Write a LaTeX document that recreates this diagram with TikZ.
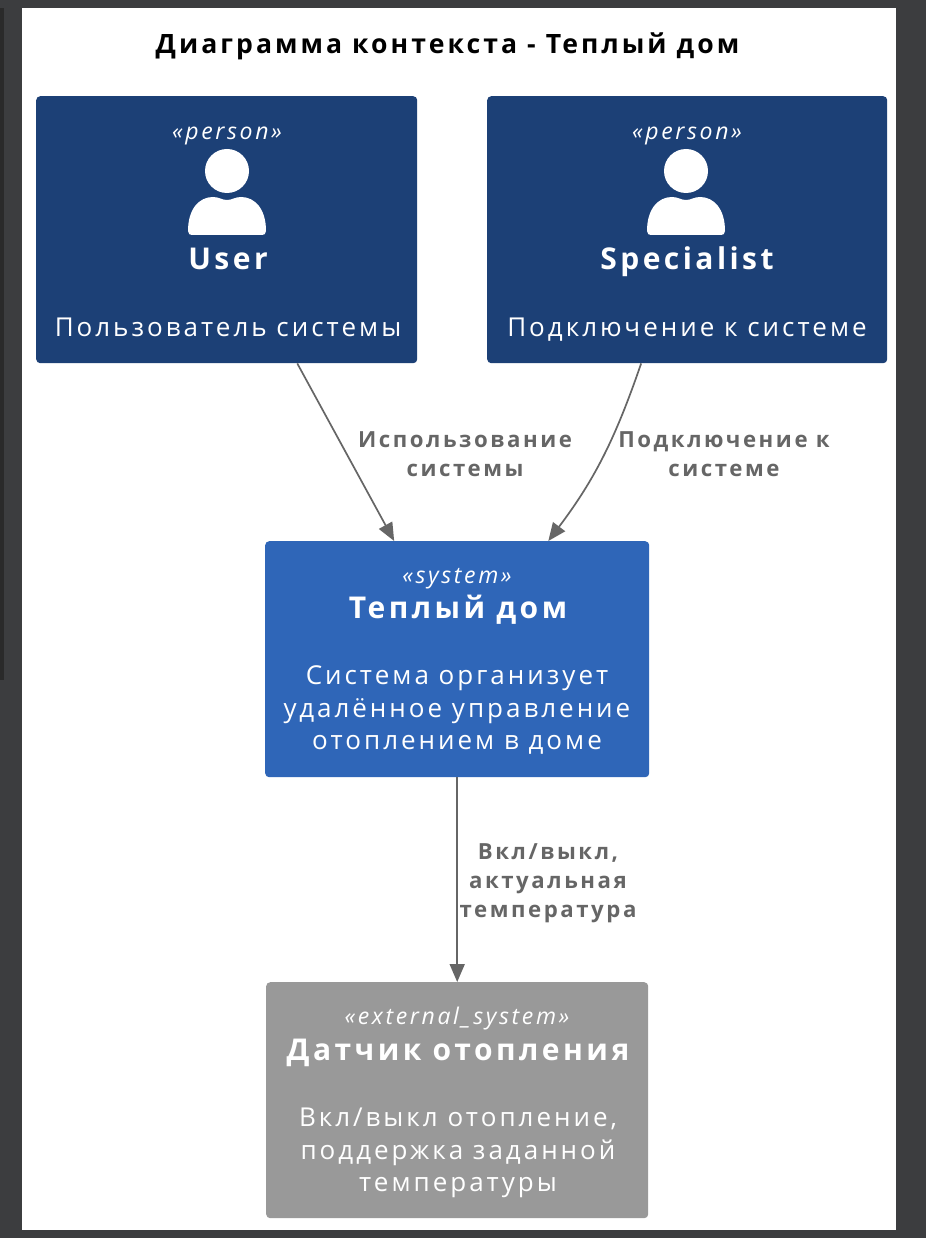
\documentclass[tikz,border=0pt]{standalone}
\usepackage{fontspec}
\setmainfont{Open Sans}
\newfontfamily\spaced[LetterSpace=11.5]{Open Sans}
\usetikzlibrary{arrows.meta,calc}
\definecolor{framegrey}{RGB}{60,61,63}
\definecolor{edgegrey}{RGB}{42,42,42}
\definecolor{persondark}{RGB}{28,64,118}
\definecolor{systemblue}{RGB}{47,102,184}
\definecolor{externalgrey}{RGB}{153,153,153}
\definecolor{relgrey}{RGB}{102,102,102}
\tikzset{
    c4box/.style={rounded corners=4pt,inner sep=0pt,anchor=north west},
    stereo/.style={text=white,anchor=base,inner sep=0pt,font=\spaced\itshape\fontsize{23}{26}\selectfont},
    boxname/.style={text=white,anchor=base,inner sep=0pt,font=\spaced\bfseries\fontsize{30}{34}\selectfont},
    boxtext/.style={text=white,align=center,inner sep=0pt,font=\spaced\fontsize{26}{32.5}\selectfont},
    rellabel/.style={text=relgrey,align=center,inner sep=0pt,font=\spaced\bfseries\fontsize{22.2}{28.8}\selectfont},
    rel/.style={draw=relgrey,line width=1.7pt,-{Triangle[length=18pt,width=15pt]}},
    personicon/.pic={
        \fill[white] (0,0) circle (22);
        \fill[white] (-39,60) .. controls (-39,38) and (-28,26) .. (-14,26)
            .. controls (-8,26) and (-5,29) .. (0,29)
            .. controls (5,29) and (8,26) .. (14,26)
            .. controls (28,26) and (39,38) .. (39,60)
            .. controls (39,63) and (37,64) .. (35,64) -- (-35,64)
            .. controls (-37,64) and (-39,63) .. (-39,60) -- cycle;
    }
}
\begin{document}
\begin{tikzpicture}[x=1pt,y=-1pt]
    \useasboundingbox (0,0) rectangle (926,1238);
    \fill[framegrey] (0,0) rectangle (926,1238);
    \fill[edgegrey] (0,8) rectangle (4,680);
    \fill[white] (22,8) rectangle (896,1230);

    \node[anchor=base,inner sep=0pt,font=\spaced\bfseries\fontsize{26.6}{30}\selectfont] (title) at (447.5,54) {Диаграмма контекста - Теплый дом};

    % boxes
    \node[c4box,fill=persondark,minimum width=381pt,minimum height=267pt] (user) at (36,96) {};
    \node[c4box,fill=persondark,minimum width=400pt,minimum height=267pt] (specialist) at (487,96) {};
    \node[c4box,fill=systemblue,minimum width=384pt,minimum height=236pt] (heating) at (265,541) {};
    \node[c4box,fill=externalgrey,minimum width=382pt,minimum height=236pt] (sensor) at (266,982) {};

    % user
    \node[stereo] (userstereo) at (227,140) {«person»};
    \pic at (227,171) {personicon};
    \node[boxname] (username) at (228,270) {User};
    \node[boxtext,anchor=base] (usertext) at (228,336) {Пользователь системы};

    % specialist
    \node[stereo] (specstereo) at (687,140) {«person»};
    \pic at (686,171) {personicon};
    \node[boxname] (specname) at (687,270) {Specialist};
    \node[boxtext,anchor=base] (spectext) at (687,336) {Подключение к системе};

    % system
    \node[stereo] (heatstereo) at (457,583) {«system»};
    \node[boxname] (heatname) at (458,618) {Теплый дом};
    \node[boxtext] (heattext) at (457,710) {Система организует\\удалённое управление\\отоплением в доме};

    % external
    \node[stereo] (sensstereo) at (457,1024) {«external\_system»};
    \node[boxname] (sensname) at (458,1060) {Датчик отопления};
    \node[boxtext] (senstext) at (458,1153) {Вкл/выкл отопление,\\поддержка заданной\\температуры};

    % relations
    \draw[rel] ($(user.south west)!0.685!(user.south east)$) -- ($(heating.north west)!0.336!(heating.north east)$);
    \draw[rel] ($(specialist.south west)!0.385!(specialist.south east)$) to[out=-109,in=53] ($(heating.north west)!0.737!(heating.north east)$);
    \draw[rel] (heating.south) -- (sensor.north);

    \node[rellabel] (uselabel) at (465,454) {Использование\\системы};
    \node[rellabel] (connlabel) at (724,454) {Подключение к\\системе};
    \node[rellabel] (onofflabel) at (548,883) {Вкл/выкл,\\актуальная\\температура};
\end{tikzpicture}
\end{document}
